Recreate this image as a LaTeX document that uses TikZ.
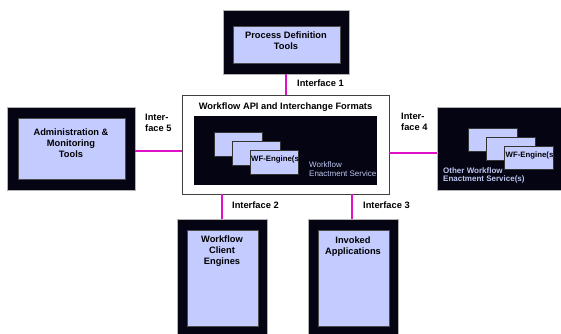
\documentclass[tikz,border=0pt]{standalone}
\usepackage{fontspec}
\setmainfont{Liberation Sans}
\definecolor{boxblack}{RGB}{4,4,18}
\definecolor{lav}{RGB}{196,204,255}
\definecolor{lavtext}{RGB}{190,198,240}
\definecolor{ifline}{RGB}{224,16,200}
\tikzset{
  outerbox/.style={fill=boxblack, draw=gray!60, line width=0.4pt, inner sep=0pt, outer sep=0pt},
  innerbox/.style={fill=lav, draw=gray!60!black, line width=0.4pt, inner sep=0pt, outer sep=0pt},
  engbox/.style={fill=lav, draw=black!80, line width=0.6pt, inner sep=0pt, minimum width=48pt, minimum height=24pt},
  apibox/.style={fill=white, draw=black!75, line width=0.8pt, inner sep=0pt, outer sep=0pt},
  boxtext/.style={font=\fontsize{9.3}{11}\selectfont\bfseries, align=center, inner sep=0pt},
  iflabel/.style={font=\fontsize{9.3}{11}\selectfont\bfseries, align=left, inner sep=0pt, anchor=west},
  englabel/.style={font=\fontsize{7.8}{9}\selectfont\bfseries, inner sep=0pt, anchor=west},
  svclabel/.style={font=\fontsize{8}{8.6}\selectfont, text=lavtext, align=left, inner sep=0pt, anchor=north west},
  link/.style={draw=ifline, line width=2.6pt}
}
\begin{document}
\begin{tikzpicture}[x=1pt,y=-1pt]
\useasboundingbox (0,0) rectangle (561,333);
\begin{scope}
\clip (0,0) rectangle (561,333);

% Process definition tools
\node[outerbox, minimum width=126pt, minimum height=64pt] (pdt) at (286,42) {};
\node[innerbox, minimum width=107pt, minimum height=37pt] (pdtin) at (286.5,44.5) {};
\node[boxtext] (pdttxt) at (286,41) {Process Definition\\Tools};

% Administration & monitoring tools
\node[outerbox, minimum width=128pt, minimum height=83pt] (adm) at (71,148.5) {};
\node[innerbox, minimum width=107pt, minimum height=61pt] (admin) at (71.5,148.5) {};
\node[boxtext] (admtxt) at (71,143) {Administration \&\\Monitoring\\Tools};

% Workflow API box with the enactment service
\node[apibox, minimum width=207pt, minimum height=99pt] (api) at (285.5,144.5) {};
\node[boxtext] (apitxt) at (285.5,107) {Workflow API and Interchange Formats};
\node[fill=boxblack, inner sep=0pt, minimum width=183pt, minimum height=69pt] (svc) at (285.5,150.5) {};
\node[engbox] (e1) at (238,144) {};
\node[engbox] (e2) at (256,153) {};
\node[engbox] (e3) at (274,162) {};
\begin{scope}
  \clip (e3.south west) rectangle (e3.north east);
  \node[englabel] (e3txt) at (251,159) {WF-Engine(s)};
\end{scope}
\node[svclabel] (svctxt) at (309,161.5) {Workflow\\Enactment Service};

% Other enactment services
\node[outerbox, minimum width=126pt, minimum height=83pt] (oth) at (500,148.5) {};
\node[engbox, minimum width=49pt, minimum height=23pt] (o1) at (492.5,139.5) {};
\node[engbox, minimum width=49pt, minimum height=23pt] (o2) at (510.5,148.5) {};
\node[engbox, minimum width=49pt, minimum height=23pt] (o3) at (528.5,157.5) {};
\begin{scope}
  \clip (o3.south west) rectangle (o3.north east);
  \node[englabel] (o3txt) at (505.5,155) {WF-Engine(s)};
\end{scope}
\node[svclabel, font=\fontsize{8}{8.4}\selectfont\bfseries] (othtxt) at (443,167.5) {Other Workflow\\Enactment Service(s)};

% Workflow client engines
\node[outerbox, minimum width=90pt, minimum height=117pt] (wce) at (222,277.5) {};
\node[innerbox, minimum width=71pt, minimum height=96pt] (wcein) at (222.5,278) {};
\node[boxtext] (wcetxt) at (222,251.5) {Workflow\\Client\\Engines};

% Invoked applications
\node[outerbox, minimum width=90pt, minimum height=117pt] (inv) at (353,277.5) {};
\node[innerbox, minimum width=71pt, minimum height=96pt] (invin) at (353.5,278) {};
\node[boxtext] (invtxt) at (353,246.5) {Invoked\\Applications};
\end{scope}

% Interfaces
\draw[link] (pdt.south) -- (pdt.south |- api.north);
\draw[link] ([yshift=-2.5pt]adm.east) -- ([yshift=-2.5pt]adm.east -| api.west);
\draw[link] ([yshift=-4.5pt]oth.west -| api.east) -- ([yshift=-4.5pt]oth.west);
\draw[link] (wce.north |- api.south) -- (wce.north);
\draw[link] ([xshift=-1pt]inv.north |- api.south) -- ([xshift=-1pt]inv.north);

\node[iflabel] (if1) at (297,83) {Interface 1};
\node[iflabel] (if5) at (145,123) {Inter-\\face 5};
\node[iflabel] (if4) at (401,122) {Inter-\\face 4};
\node[iflabel] (if2) at (232,205) {Interface 2};
\node[iflabel] (if3) at (363,205) {Interface 3};
\end{tikzpicture}
\end{document}
